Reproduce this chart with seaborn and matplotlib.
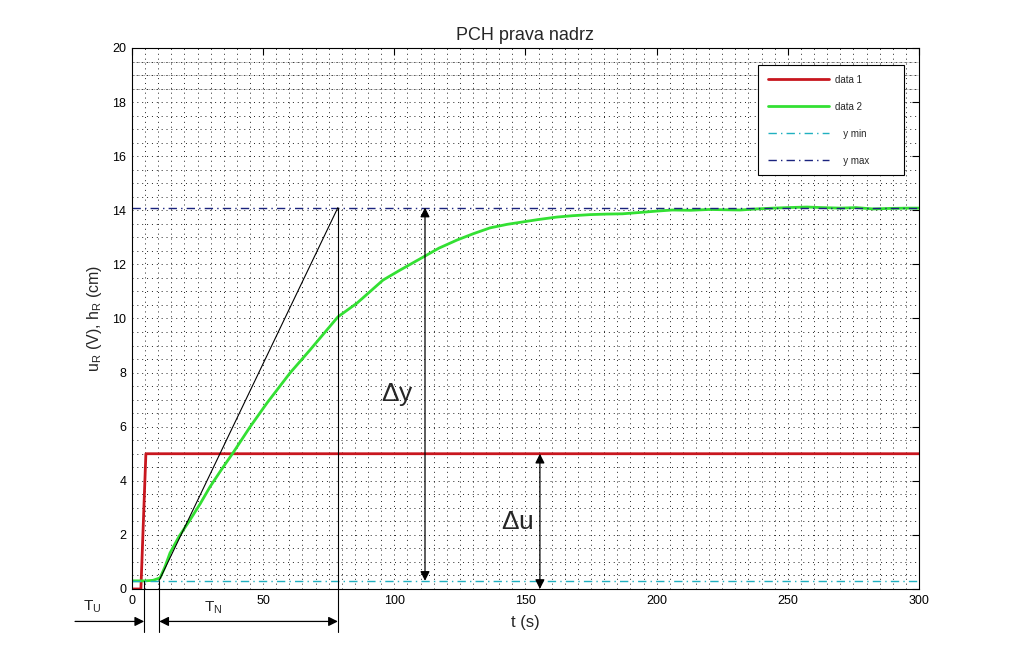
import numpy as np
import pandas as pd
import seaborn as sns
import matplotlib.pyplot as plt
from matplotlib.ticker import MultipleLocator

# step input (data 1)
t_u = [0, 3.4, 5.3, 300]
u = [0, 0, 5, 5]

# tank level response (data 2)
t_h = [0, 5, 8, 10.7, 12.5, 14.5, 18, 22.1, 26, 29.7, 34, 38.5, 45, 51.5, 60.2,
       67.9, 78.5, 85.8, 95.7, 102.2, 111, 117, 123.9, 130, 136.5, 143, 149, 155,
       162, 168, 174.6, 181, 187, 193.7, 200, 206, 213, 220, 231.8, 238, 244.4,
       250, 257.3, 263, 270, 276, 282.5, 289, 295.5, 300]
h = [0.30, 0.30, 0.32, 0.41, 0.8, 1.33, 1.95, 2.55, 3.15, 3.77, 4.4, 5.03, 5.99,
     6.88, 7.98, 8.84, 10.06, 10.57, 11.42, 11.79, 12.27, 12.6, 12.9, 13.13,
     13.35, 13.48, 13.57, 13.66, 13.75, 13.8, 13.84, 13.86, 13.87, 13.92, 13.97,
     14.01, 14.0, 14.03, 14.01, 14.05, 14.08, 14.1, 14.12, 14.1, 14.08, 14.1,
     14.05, 14.07, 14.08, 14.08]

y_min = 0.3
y_max = 14.1

# tangent construction
tangent_t = [10.3, 78.5]
tangent_y = [0.3, 14.1]
T_u_end = 4.65
T_n_start = 10.4
T_n_end = 78.5
dy_t = 111.7
du_t = 155.5

dense_grid_y = [18.5, 19.0, 19.5]

sns.set_style("white")
plt.rcParams['font.family'] = ['Liberation Sans', 'DejaVu Sans']

fig = plt.figure(figsize=(10.16, 6.62), dpi=100)
ax = fig.add_axes([0.1299, 0.1103, 0.9045 - 0.1299, 0.9275 - 0.1103])

df1 = pd.DataFrame({"t": t_u, "v": u})
df2 = pd.DataFrame({"t": t_h, "v": h})

sns.lineplot(data=df1, x="t", y="v", ax=ax, color="#c8161e", linewidth=2,
             label="data 1", estimator=None, sort=False)
sns.lineplot(data=df2, x="t", y="v", ax=ax, color="#33e033", linewidth=2,
             label="data 2", estimator=None, sort=False)
ax.axhline(y_min, color="#20b0c0", linestyle=(0, (6, 3, 1, 3)), linewidth=1,
           label="   y min")
ax.axhline(y_max, color="#1a237e", linestyle=(0, (6, 3, 1, 3)), linewidth=1,
           label="   y max")

for yy in dense_grid_y:
    ax.axhline(yy, color="#888888", linestyle=(0, (1, 1)), linewidth=0.6, zorder=0)

ax.plot(tangent_t, tangent_y, color="k", linewidth=0.8)

# vertical helper lines running below the axes
ax.plot([T_u_end, T_u_end], [0.3, -1.6], color="k", linewidth=0.8, clip_on=False)
ax.plot([T_n_start, T_n_start], [0.3, -1.6], color="k", linewidth=0.8, clip_on=False)
ax.plot([T_n_end, T_n_end], [y_max, -1.6], color="k", linewidth=0.8, clip_on=False)

arr = dict(arrowstyle="-|>", color="k", lw=0.9, mutation_scale=14, shrinkA=0, shrinkB=0)
arr2 = dict(arrowstyle="<|-|>", color="k", lw=0.9, mutation_scale=14, shrinkA=0, shrinkB=0)
ax.annotate("", xy=(T_u_end, -1.2), xytext=(-21.7, -1.2), arrowprops=arr,
            annotation_clip=False)
ax.annotate("", xy=(T_n_end, -1.2), xytext=(T_n_start, -1.2), arrowprops=arr2,
            annotation_clip=False)
ax.annotate("", xy=(dy_t, y_max), xytext=(dy_t, y_min), arrowprops=arr2)
ax.annotate("", xy=(du_t, 5), xytext=(du_t, 0), arrowprops=arr2)

ax.text(-15.2, -0.67, r"T$_\mathregular{U}$", fontsize=11, ha="center", va="center",
        clip_on=False)
ax.text(31, -0.7, r"T$_\mathregular{N}$", fontsize=11, ha="center", va="center",
        clip_on=False)
ax.text(101, 7.2, r"$\mathregular{\Delta}$y", fontsize=19, ha="center", va="center")
ax.text(146.8, 2.48, r"$\mathregular{\Delta}$u", fontsize=19, ha="center", va="center")

ax.set_xlim(0, 300)
ax.set_ylim(0, 20)
ax.xaxis.set_major_locator(MultipleLocator(50))
ax.yaxis.set_major_locator(MultipleLocator(2))
ax.xaxis.set_minor_locator(MultipleLocator(5))
ax.yaxis.set_minor_locator(MultipleLocator(0.5))
ax.grid(which="both", color="#222222", linestyle=(0, (1, 4)), linewidth=0.7)
ax.set_axisbelow(True)
ax.tick_params(which="major", direction="in", length=5, width=0.8, top=True,
               right=True, labelsize=9, colors="k", pad=4)
ax.tick_params(which="minor", length=0)
for s in ax.spines.values():
    s.set_color("k")
    s.set_linewidth(0.8)

ax.set_title("PCH prava nadrz", fontsize=13, pad=6)
ax.set_xlabel("t (s)", fontsize=12, labelpad=6)
ax.set_ylabel(r"u$_\mathregular{R}$ (V), h$_\mathregular{R}$ (cm)", fontsize=11.5, labelpad=6)

leg = ax.legend(loc="upper left", bbox_to_anchor=(0.7954, 0.7708, 0.1855, 0.1978),
                mode="expand", fontsize=7, frameon=True, fancybox=False,
                handlelength=6.3, labelspacing=1.75, borderpad=1.0,
                handletextpad=0.6, borderaxespad=0)
leg.get_frame().set_edgecolor("k")
leg.get_frame().set_linewidth(0.8)
leg.get_frame().set_alpha(1)

fig.savefig("out.png", dpi=100, facecolor="white")
